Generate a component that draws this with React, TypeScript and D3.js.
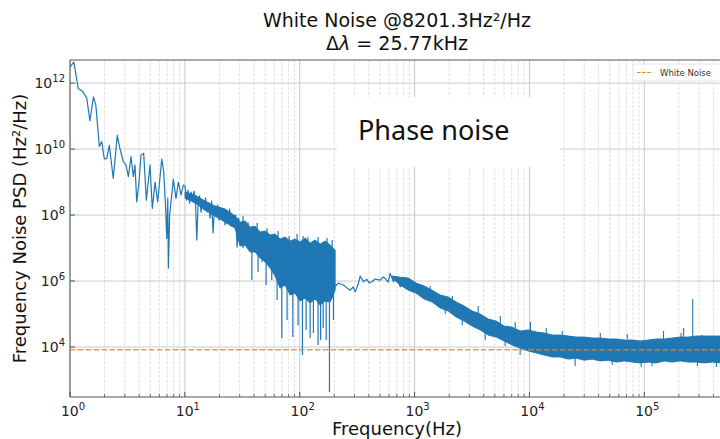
import * as d3 from 'd3';

// 1 Hz .. 30 Hz, sparse part of the spectrum
const sparseLowFreq = [1.0, 1.08, 1.18, 1.28, 1.4, 1.49, 1.6, 1.68, 1.8, 1.89, 1.99, 2.09, 2.2, 2.38, 2.58, 2.72, 2.91, 3.07, 3.22, 3.4, 3.56, 3.68, 3.81, 3.99, 4.15, 4.38, 4.62, 4.97, 5.21, 5.5, 5.8, 6.29, 6.55, 6.82, 6.95, 7.1, 7.19, 7.37, 7.58, 7.93, 8.37, 8.78, 9.26, 9.7,
  10.04, 10.35, 10.66, 10.99, 11.32, 11.67, 12.03, 12.4, 12.7, 13.03, 13.43, 13.84, 14.26, 14.7, 15.15, 15.61, 16.09, 16.58, 17.09, 17.61, 18.15, 18.7, 19.27, 19.86, 20.47, 21.09, 21.74, 22.4, 23.08, 23.79, 24.51, 25.26, 26.04, 26.83, 27.65, 28.5, 29.37, 30.26];
const sparseLowPsd = [3.1e12, 4.3e12, 6.9e11, 5.8e11, 3.5e11, 7.1e10, 3.8e11, 2.1e11, 1.2e10, 1.7e10, 5.0e9, 5.2e9, 1.3e10, 1.3e9, 2.6e10, 1.05e10, 4.2e9, 3.3e9, 1.45e9, 5.9e9, 1.45e9, 3.3e9, 2.5e8, 1.0e9, 6.6e9, 7.4e9, 2.8e8, 3.3e9, 1.6e8, 1.0e9, 2.5e8, 5.0e9, 2.0e9, 1.3e8, 1.95e7, 3.2e8, 2.5e6, 1.0e8, 2.5e8, 1.2e9, 3.2e8, 1.0e9, 4.1e8, 8.1e8,
  7.6e8, 2.85e8, 5.7e8, 2.31e8, 5.0e8, 3.3e8, 5.3e8, 2.0e8, 1.75e7, 2.0e8, 3.8e8, 1.23e8, 2.85e8, 1.42e8, 3.3e8, 1.23e8, 2.31e8, 8.1e7, 2.65e8, 2.85e7, 1.87e8, 1.0e8, 2.0e8, 7.05e7, 1.63e8, 8.1e7, 1.42e8, 5.0e7, 1.23e8, 6.1e7, 1.52e8, 4.6e7, 1.07e8, 5.3e7, 1.0e8, 1.07e7, 8.1e7, 4.0e7];

// 10 Hz .. 200 Hz, dense part: upper / lower edge of the trace
const bandLowFreq = [10.04, 12.3, 15.0, 18.3, 22.4, 27.4, 30.3, 33.4, 37.0, 40.9, 45.2, 50.0, 55.2, 61.1, 67.5, 74.6, 82.5, 91.2, 100.7, 111.4, 123.2, 136.2, 150.6, 166.4, 184.0, 203.3];
const bandLowHi = [5.0e8, 4.0e8, 2.65e8, 1.87e8, 1.52e8, 9.3e7, 6.1e7, 6.6e7, 4.3e7, 4.6e7, 3.05e7, 3.3e7, 2.5e7, 2.65e7, 1.87e7, 2.15e7, 1.63e7, 1.87e7, 1.52e7, 2.0e7, 1.42e7, 1.75e7, 1.32e7, 1.63e7, 1.23e7, 8.7e6];
const bandLowLo = [3.3e8, 2.31e8, 1.42e8, 9.3e7, 6.1e7, 4.0e7, 1.15e7, 1.23e7, 7.6e6, 7.6e6, 5.0e6, 3.8e6, 2.5e6, 1.42e6, 6.1e5, 7.6e5, 3.77e5, 4.3e5, 2.48e5, 3.05e5, 2.15e5, 2.85e5, 1.87e5, 2.48e5, 2.31e5, 5.3e5];

// spikes inside the dense part (up and down)
const dipFreq = [38.3, 43.4, 47.0, 51.0, 57.1, 63.5, 69.8, 77.6, 87.1, 96.8, 105.6, 113.7, 123.2, 131.6, 144.5, 152, 160, 170, 181.5, 196.6,
  32.1, 35.5, 42.6, 52.0, 64.8, 80.9, 94.9, 107, 118, 144.5, 173, 191.5];
const dipHi = [2.5e7, 1.75e7, 1.75e7, 1.23e7, 1.23e7, 6.1e6, 4.3e6, 2.15e6, 2.15e6, 2.15e6, 2.15e6, 2.15e6, 2.15e6, 2.15e6, 2.15e6, 2.15e6, 2.15e6, 2.15e6, 2.15e6, 2.15e6,
  9.3e7, 6.1e7, 5.7e7, 4.0e7, 3.3e7, 2.3e7, 2.65e7, 2.3e7, 2.15e7, 2.15e7, 2.0e7, 1.75e7];
const dipLo = [1.07e6, 1.87e6, 3.8e6, 7.6e5, 1.07e6, 2.65e5, 1.87e4, 6.6e4, 2.0e4, 4.6e4, 5.7e3, 3.3e4, 1.87e4, 2.65e4, 1.15e4, 1.63e4, 3.8e4, 1.63e4, 4.3e2, 6.6e4,
  1.0e7, 1.0e7, 7.6e6, 4.0e6, 1.5e6, 5.0e5, 4.0e5, 3.0e5, 3.0e5, 3.0e5, 3.0e5, 3.0e5];

// 200 Hz .. 800 Hz, single trace
const sparseMidFreq = [203, 216, 240, 259, 275, 292, 304, 323, 336, 359, 384, 403, 425, 454, 501, 532, 554, 589, 613, 655, 691, 750, 812];
const sparseMidPsd = [6.7e5, 8.7e5, 7.6e5, 6.1e5, 5.3e5, 6.6e5, 4.7e5, 8.1e5, 1.42e6, 9.5e5, 1.13e6, 8.7e5, 9.5e5, 1.15e6, 1.07e6, 1.32e6, 1.21e6, 9.3e5, 1.71e6, 9.5e5, 1.32e6, 6.7e5, 8.7e5];

// 600 Hz .. 540 kHz, dense part
const bandHighFreq = [638, 750, 880, 1032, 1213, 1423, 1671, 1963, 2303, 2704, 3175, 3725, 4375, 5137, 6030, 7080, 8318, 9772, 1.146e4, 1.345e4, 1.58e4, 1.854e4, 2.178e4, 2.558e4, 3.0e4, 3.524e4, 4.14e4, 4.855e4, 5.7e4, 6.7e4, 7.85e4, 9.23e4, 1.084e5, 1.27e5, 1.49e5, 1.75e5, 2.06e5, 2.42e5, 2.84e5, 3.33e5, 3.91e5, 4.59e5, 5.39e5];
const bandHighHi = [1.42e6, 1.3e6, 1.23e6, 8.7e5, 7.05e5, 5.3e5, 3.77e5, 3.27e5, 2.31e5, 1.75e5, 1.23e5, 1.0e5, 7.05e4, 6.1e4, 4.3e4, 4.0e4, 3.05e4, 3.3e4, 2.85e4, 2.65e4, 2.3e4, 2.3e4, 2.15e4, 2.0e4, 2.0e4, 1.87e4, 1.87e4, 1.75e4, 1.75e4, 1.63e4, 1.63e4, 1.52e4, 1.63e4, 1.75e4, 1.75e4, 1.87e4, 2.0e4, 2.0e4, 2.15e4, 2.15e4, 2.15e4, 2.15e4, 2.15e4];
const bandHighLo = [1.23e6, 7.6e5, 5.3e5, 4.3e5, 2.85e5, 2.31e5, 1.52e5, 1.23e5, 8.1e4, 6.1e4, 4.3e4, 3.3e4, 2.3e4, 2.0e4, 1.52e4, 1.15e4, 9.3e3, 7.6e3, 6.6e3, 5.7e3, 5.0e3, 5.0e3, 4.3e3, 4.6e3, 4.0e3, 4.3e3, 3.8e3, 4.0e3, 3.5e3, 3.8e3, 3.5e3, 3.3e3, 3.5e3, 3.3e3, 3.8e3, 3.5e3, 3.8e3, 3.5e3, 3.5e3, 3.3e3, 3.5e3, 3.3e3, 3.5e3];

// isolated outliers above / below the dense part
const outlierFreq = [1.02e4, 1.4e4, 1.93e4, 4.14e4, 7.1e4, 1.47e5, 2.09e5, 2.2e5, 2.64e5, 3.18e5, 8.3e3, 2.5e4, 5.26e4, 9.4e4, 1.17e5, 2.9e5, 4.24e5,
  1368, 2127, 3580, 5570, 7520, 1849, 2600, 4120, 6150];
const outlierHi = [5.7e4, 3.8e4, 3.05e4, 2.65e4, 2.5e4, 3.05e4, 2.65e4, 3.8e4, 2.85e5, 2.3e4, 9.3e3, 4.6e3, 3.8e3, 3.3e3, 3.5e3, 3.5e3, 3.5e3,
  7.05e5, 3.5e5, 1.75e5, 8.7e4, 5.7e4, 3.0e5, 1.5e5, 6.0e4, 3.5e4];
const outlierLo = [2.15e4, 2.15e4, 2.0e4, 1.87e4, 1.75e4, 1.75e4, 2.0e4, 2.0e4, 2.0e4, 2.15e4, 5.7e3, 2.65e3, 2.85e3, 2.5e3, 2.65e3, 2.65e3, 2.5e3,
  2.65e5, 1.2e5, 4.5e4, 2.0e4, 1.2e4, 1.0e5, 4.6e4, 1.63e4, 1.07e4];

const whiteNoiseLevel = 8201.3;
const xTickExps = [0, 1, 2, 3, 4, 5];
const yTickExps = [4, 6, 8, 10, 12];

const blue = '#1f77b4';
const orange = '#ff7f0e';
const font = '"DejaVu Sans", sans-serif';

export default function App() {
  const width = 720;
  const height = 439;
  const plot = { left: 70, right: 727, top: 60, bottom: 397 };

  const x = d3.scaleLog().domain([1, Math.pow(10, 5.72)]).range([plot.left, plot.right]);
  const y = d3.scaleLog().domain([Math.pow(10, 2.485), Math.pow(10, 12.7)]).range([plot.bottom, plot.top]);

  type P = { f: number; v: number };
  type B = { f: number; hi: number; lo: number };

  const lowPts: P[] = sparseLowFreq.map((f, i) => ({ f, v: sparseLowPsd[i] }));
  const midPts: P[] = sparseMidFreq.map((f, i) => ({ f, v: sparseMidPsd[i] }));
  const bandLow: B[] = bandLowFreq.map((f, i) => ({ f, hi: bandLowHi[i], lo: bandLowLo[i] }));
  const bandHigh: B[] = bandHighFreq.map((f, i) => ({ f, hi: bandHighHi[i], lo: bandHighLo[i] }));
  const dips: B[] = dipFreq.map((f, i) => ({ f, hi: dipHi[i], lo: dipLo[i] }));
  const outliers: B[] = outlierFreq.map((f, i) => ({ f, hi: outlierHi[i], lo: outlierLo[i] }));

  const line = d3.line<P>().x((d) => x(d.f)).y((d) => y(d.v));
  const area = d3
    .area<B>()
    .x((d) => x(d.f))
    .y0((d) => y(d.lo))
    .y1((d) => y(d.hi));

  // minor grid / ticks positions
  const minor: number[] = [];
  for (let e = 0; e <= 5; e++) {
    for (let k = 2; k <= 9; k++) {
      const f = k * Math.pow(10, e);
      if (f < x.domain()[1]) minor.push(f);
    }
  }
  const major = xTickExps.map((e) => Math.pow(10, e));
  const yMajor = yTickExps.map((e) => Math.pow(10, e));

  return (
    <svg
      width={width}
      height={height}
      style={{ position: 'absolute', left: 0, top: 0, background: '#fff' }}
      fontFamily={font}
    >
      <defs>
        <clipPath id="plotClip">
          <rect x={plot.left} y={plot.top} width={plot.right - plot.left} height={plot.bottom - plot.top} />
        </clipPath>
      </defs>

      {/* grid */}
      <g>
        {minor.map((f) => (
          <line
            key={'mg' + f}
            x1={x(f)}
            x2={x(f)}
            y1={plot.top}
            y2={plot.bottom}
            stroke="#cfcfcf"
            strokeWidth={0.8}
            strokeDasharray="3,1.5"
            opacity={0.8}
          />
        ))}
        {major.map((f) => (
          <line key={'Mg' + f} x1={x(f)} x2={x(f)} y1={plot.top} y2={plot.bottom} stroke="#c8c8c8" strokeWidth={1} />
        ))}
        {yMajor.map((v) => (
          <line key={'yg' + v} x1={plot.left} x2={plot.right} y1={y(v)} y2={y(v)} stroke="#cccccc" strokeWidth={1} />
        ))}
      </g>

      {/* data */}
      <g clipPath="url(#plotClip)">
        <path d={area(bandLow) || ''} fill={blue} stroke={blue} strokeWidth={1} />
        <path d={area(bandHigh) || ''} fill={blue} stroke={blue} strokeWidth={1} />
        {dips.map((d, i) => (
          <line key={'dip' + i} x1={x(d.f)} x2={x(d.f)} y1={y(d.hi)} y2={y(d.lo)} stroke={blue} strokeWidth={1.2} />
        ))}
        {outliers.map((d, i) => (
          <line key={'out' + i} x1={x(d.f)} x2={x(d.f)} y1={y(d.hi)} y2={y(d.lo)} stroke={blue} strokeWidth={1.1} />
        ))}
        <path d={line(lowPts) || ''} fill="none" stroke={blue} strokeWidth={1.2} strokeLinejoin="round" />
        <path d={line(midPts) || ''} fill="none" stroke={blue} strokeWidth={1.2} strokeLinejoin="round" />
        <line
          x1={plot.left}
          x2={plot.right}
          y1={y(whiteNoiseLevel)}
          y2={y(whiteNoiseLevel)}
          stroke={orange}
          strokeWidth={1.5}
          strokeDasharray="5.5,2.4"
          opacity={0.8}
        />
      </g>

      {/* spines */}
      <line x1={plot.left} x2={plot.left} y1={plot.top} y2={plot.bottom} stroke="#555" strokeWidth={1} />
      <line x1={plot.left} x2={plot.right} y1={plot.bottom} y2={plot.bottom} stroke="#555" strokeWidth={1} />
      <line x1={plot.left} x2={plot.right} y1={plot.top} y2={plot.top} stroke="#555" strokeWidth={1} />

      {/* ticks (inward) */}
      {minor.map((f) => (
        <line key={'mt' + f} x1={x(f)} x2={x(f)} y1={plot.bottom} y2={plot.bottom - 3} stroke="#555" strokeWidth={0.8} />
      ))}
      {major.map((f) => (
        <line key={'Mt' + f} x1={x(f)} x2={x(f)} y1={plot.bottom} y2={plot.bottom - 5} stroke="#555" strokeWidth={1} />
      ))}
      {yMajor.map((v) => (
        <line key={'yt' + v} x1={plot.left} x2={plot.left + 5} y1={y(v)} y2={y(v)} stroke="#555" strokeWidth={1} />
      ))}

      {/* tick labels */}
      {xTickExps.map((e) => (
        <text key={'xl' + e} x={x(Math.pow(10, e)) + 3} y={plot.bottom + 19} textAnchor="middle" fontSize={14} fill="#222">
          <tspan>10</tspan>
          <tspan dy={-6} fontSize={10}>
            {e}
          </tspan>
        </text>
      ))}
      {yTickExps.map((e) => (
        <text key={'yl' + e} x={plot.left - 5} y={y(Math.pow(10, e)) + 5} textAnchor="end" fontSize={14} fill="#222">
          <tspan>10</tspan>
          <tspan dy={-6} fontSize={10}>
            {e}
          </tspan>
        </text>
      ))}

      {/* annotation box */}
      <rect x={337} y={97} width={223} height={70} fill="#fff" />
      <text x={358} y={140} fontSize={27} fontFamily='"Noto Sans", sans-serif' fill="#111">
        Phase noise
      </text>

      {/* legend */}
      <rect x={633} y={64} width={100} height={17} rx={2} fill="#fff" fillOpacity={0.85} stroke="#dddddd" strokeWidth={0.8} />
      <line x1={637} x2={652} y1={72.5} y2={72.5} stroke={orange} strokeWidth={1} strokeDasharray="3.5,1.6" />
      <text x={660} y={75.5} fontSize={8.5} fill="#333">
        White Noise
      </text>

      {/* titles */}
      <text x={397} y={27} textAnchor="middle" fontSize={19} fill="#111">
        White Noise @8201.3Hz²/Hz
      </text>
      <text x={397} y={50} textAnchor="middle" fontSize={19} fill="#111">
        Δ<tspan fontStyle="italic">λ</tspan> = 25.77kHz
      </text>
      <text x={397} y={435} textAnchor="middle" fontSize={18} fill="#111">
        Frequency(Hz)
      </text>
      <text transform={`translate(26,${(plot.top + plot.bottom) / 2}) rotate(-90)`} textAnchor="middle" fontSize={18} fill="#111">
        Frequency Noise PSD (Hz²/Hz)
      </text>
    </svg>
  );
}
